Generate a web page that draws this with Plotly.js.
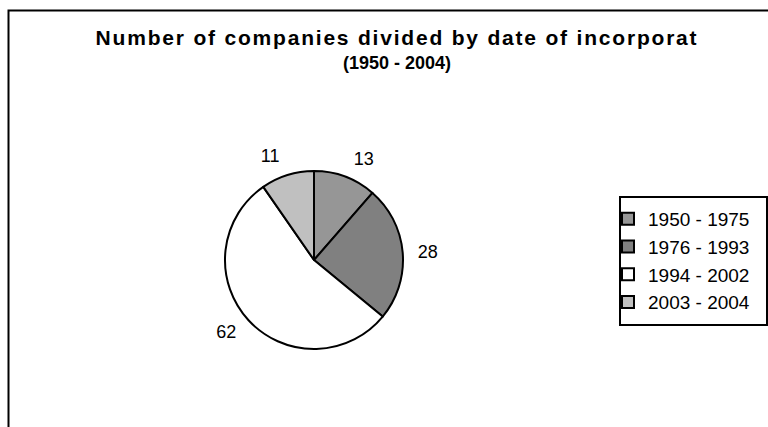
<!DOCTYPE html>
<html>
<head>
<meta charset="utf-8">
<script src="https://cdn.plot.ly/plotly-3.0.1.min.js"></script>
<style>
  html, body { margin: 0; padding: 0; background: #fff; }
  #chart { width: 768px; height: 427px; }
  .gtitle { letter-spacing: 1.8px; }
</style>
</head>
<body>
<div id="chart"></div>
<script>
// Data
const periods = ["1950 - 1975", "1976 - 1993", "1994 - 2002", "2003 - 2004"];
const companies = [13, 28, 62, 11];
const sliceColors = ["#969696", "#808080", "#ffffff", "#c0c0c0"];
const titleLine1 = "Number of companies divided by date of incorporat";
const titleLine2 = "(1950 - 2004)";

const W = 768, H = 427;
const px = x => x / W;
const py = y => 1 - y / H;

const cx = 314, cy = 260, r = 89, rLabel = 99;
const FONT = "Liberation Sans, Arial, sans-serif";

// invisible ring used only to place the value labels a bit further out
const labelTrace = {
  type: "pie",
  labels: periods,
  values: companies,
  sort: false,
  direction: "clockwise",
  rotation: 0,
  showlegend: false,
  marker: { colors: periods.map(() => "rgba(0,0,0,0)"), line: { width: 0 } },
  textinfo: "value",
  textposition: "outside",
  outsidetextfont: { family: FONT, size: 18, color: "#000" },
  domain: { x: [px(cx - rLabel), px(cx + rLabel)], y: [py(cy + rLabel), py(cy - rLabel)] },
  hoverinfo: "skip"
};

const pieTrace = {
  type: "pie",
  labels: periods,
  values: companies,
  sort: false,
  direction: "clockwise",
  rotation: 0,
  marker: { colors: sliceColors, line: { color: "#000", width: 2 } },
  textinfo: "none",
  domain: { x: [px(cx - r), px(cx + r)], y: [py(cy + r), py(cy - r)] },
  hoverinfo: "label+value"
};

const layout = {
  width: W, height: H,
  margin: { l: 0, r: 0, t: 0, b: 0 },
  paper_bgcolor: "#fff",
  plot_bgcolor: "#fff",
  font: { family: FONT, color: "#000" },
  title: {
    text: titleLine1,
    font: { family: FONT, size: 21, weight: "bold", color: "#000" },
    x: px(397), xanchor: "center", xref: "container",
    y: py(30.5), yanchor: "top", yref: "container"
  },
  annotations: [{
    text: titleLine2,
    showarrow: false,
    xref: "paper", yref: "paper",
    x: px(397), xanchor: "center",
    y: py(51.5), yanchor: "top",
    borderpad: 0,
    font: { family: FONT, size: 18, weight: "bold", color: "#000" }
  }],
  showlegend: true,
  legend: {
    x: px(608), xanchor: "left",
    y: py(200), yanchor: "top",
    bgcolor: "rgba(0,0,0,0)",
    borderwidth: 0,
    font: { family: FONT, size: 19, color: "#000" }
  },
  shapes: [
    { type: "rect", xref: "paper", yref: "paper",
      x0: px(8.5), x1: 1.2, y0: -0.2, y1: py(10.5),
      line: { color: "#000", width: 2 }, fillcolor: "rgba(0,0,0,0)", layer: "above" },
    { type: "rect", xref: "paper", yref: "paper",
      x0: px(620), x1: px(767), y0: py(325), y1: py(197),
      line: { color: "#000", width: 2 }, fillcolor: "rgba(0,0,0,0)", layer: "above" }
  ]
};

Plotly.newPlot("chart", [labelTrace, pieTrace], layout, { displayModeBar: false, staticPlot: true });
</script>
</body>
</html>
